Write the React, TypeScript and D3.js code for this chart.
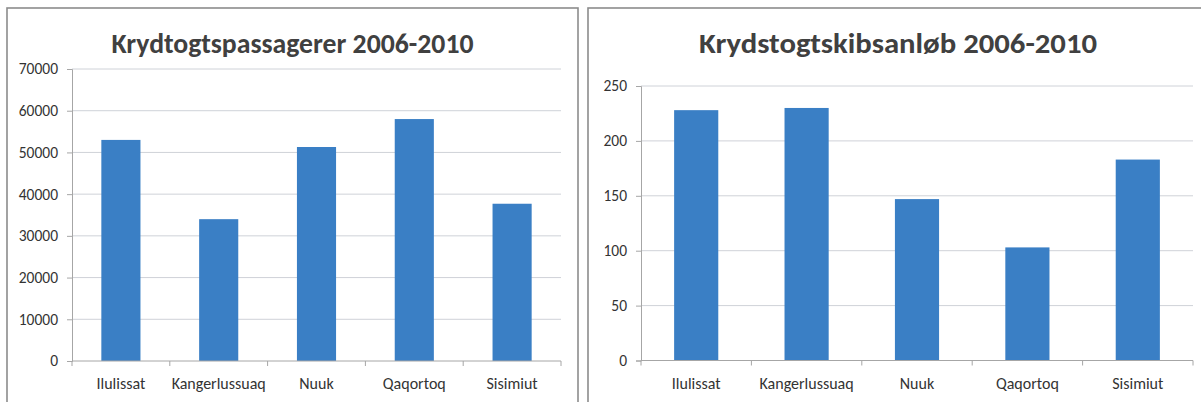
import React, { useEffect, useRef } from "react";
import * as d3 from "d3";

const categories = ["Ilulissat", "Kangerlussuaq", "Nuuk", "Qaqortoq", "Sisimiut"];
const passengers = [53000, 34000, 51300, 58000, 37700];
const shipCalls = [228, 230, 147, 103, 183];
const passengerTicks = [0, 10000, 20000, 30000, 40000, 50000, 60000, 70000];
const callTicks = [0, 50, 100, 150, 200, 250];

const FONT = "Carlito, Lato, 'Open Sans', sans-serif";
const BAR = "#3a7fc5";
const GRID = "#cfd2d8";
const AXIS = "#a6a6a6";
const TEXT = "#333333";

function drawPanel(svg, opts) {
  const { panel, plot, title, titleLen, values, ticks, max } = opts;

  svg
    .append("rect")
    .attr("x", panel.x)
    .attr("y", panel.y)
    .attr("width", panel.w)
    .attr("height", panel.h)
    .attr("fill", "#fff")
    .attr("stroke", "#8c8c8c")
    .attr("stroke-width", 1.6);

  svg
    .append("text")
    .attr("x", panel.x + panel.w / 2)
    .attr("y", 53)
    .attr("text-anchor", "middle")
    .attr("font-family", FONT)
    .attr("font-weight", 700)
    .attr("font-size", 29)
    .attr("fill", "#404040")
    .attr("textLength", titleLen)
    .attr("lengthAdjust", "spacingAndGlyphs")
    .text(title);

  const x = d3
    .scaleBand()
    .domain(categories)
    .range([plot.left, plot.right])
    .paddingInner(0.6)
    .paddingOuter(0.3);
  const y = d3.scaleLinear().domain([0, max]).range([plot.bottom, plot.top]);

  const g = svg.append("g");

  // gridlines
  g.selectAll(".grid")
    .data(ticks.filter((t) => t > 0))
    .enter()
    .append("line")
    .attr("x1", plot.left)
    .attr("x2", plot.right)
    .attr("y1", (d) => y(d))
    .attr("y2", (d) => y(d))
    .attr("stroke", GRID)
    .attr("stroke-width", 1);

  // y axis
  const yAxis = d3
    .axisLeft(y)
    .tickValues(ticks)
    .tickFormat(d3.format("d"))
    .tickSize(5)
    .tickPadding(9);
  const ya = g.append("g").attr("transform", `translate(${plot.left},0)`).call(yAxis);
  ya.select(".domain").attr("stroke", AXIS);
  ya.selectAll(".tick line").attr("stroke", AXIS);
  ya.selectAll(".tick text")
    .attr("font-family", FONT)
    .attr("font-size", 15.5)
    .attr("fill", TEXT);

  // bars
  g.selectAll(".bar")
    .data(values)
    .enter()
    .append("rect")
    .attr("x", (d, i) => x(categories[i]))
    .attr("y", (d) => y(d))
    .attr("width", x.bandwidth())
    .attr("height", (d) => y(0) - y(d))
    .attr("fill", BAR);

  // x axis line + tick marks between categories
  g.append("line")
    .attr("x1", plot.left)
    .attr("x2", plot.right)
    .attr("y1", y(0))
    .attr("y2", y(0))
    .attr("stroke", AXIS);

  const step = x.step();
  const bounds = d3.range(categories.length + 1).map((i) => plot.left + i * step);
  g.selectAll(".xtick")
    .data(bounds)
    .enter()
    .append("line")
    .attr("x1", (d) => d)
    .attr("x2", (d) => d)
    .attr("y1", y(0))
    .attr("y2", y(0) + 5)
    .attr("stroke", AXIS);

  g.selectAll(".xlabel")
    .data(categories)
    .enter()
    .append("text")
    .attr("x", (d) => x(d) + x.bandwidth() / 2)
    .attr("y", y(0) + 28)
    .attr("text-anchor", "middle")
    .attr("font-family", FONT)
    .attr("font-size", 16)
    .attr("fill", TEXT)
    .text((d) => d);
}

export default function App() {
  const ref = useRef(null);

  useEffect(() => {
    const svg = d3.select(ref.current);
    svg.selectAll("*").remove();

    drawPanel(svg, {
      panel: { x: 7, y: 8, w: 571, h: 420 },
      plot: { left: 72, right: 561, top: 69, bottom: 361 },
      title: "Krydtogtspassagerer 2006-2010",
      titleLen: 362,
      values: passengers,
      ticks: passengerTicks,
      max: 70000,
    });

    drawPanel(svg, {
      panel: { x: 588, y: 8, w: 620, h: 420 },
      plot: { left: 641, right: 1193, top: 86, bottom: 360.5 },
      title: "Krydstogtskibsanløb 2006-2010",
      titleLen: 398,
      values: shipCalls,
      ticks: callTicks,
      max: 250,
    });

    return () => {
      svg.selectAll("*").remove();
    };
  }, []);

  return (
    <div style={{ position: "absolute", left: 0, top: 0 }}>
      <svg ref={ref} width={1201} height={402} style={{ display: "block", background: "#fff" }} />
    </div>
  );
}
